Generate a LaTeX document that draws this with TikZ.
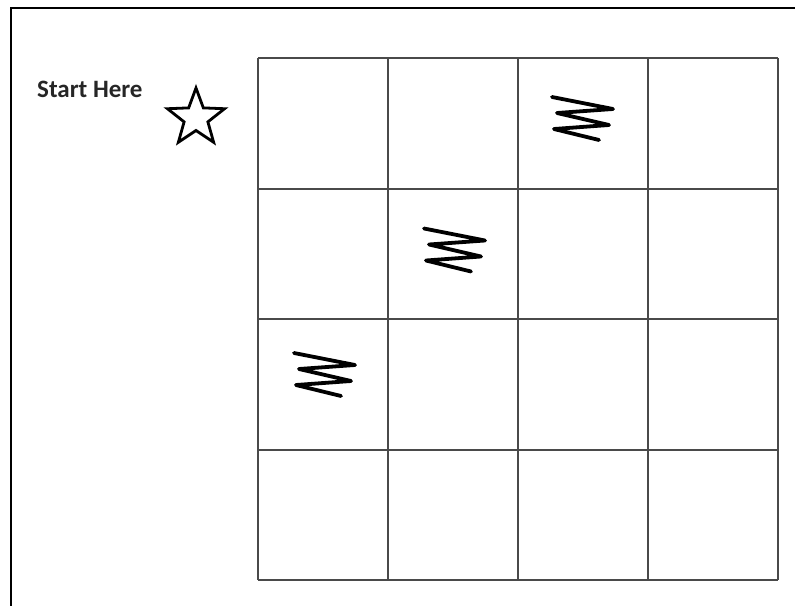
\documentclass[tikz,border=0pt]{standalone}
\usepackage{fontspec}
\newfontfamily\labelfont{Carlito}
\usetikzlibrary{shapes.geometric}
\usepackage{xcolor}
\definecolor{ink}{HTML}{000000}
\definecolor{gridc}{HTML}{4A4A4A}
\definecolor{txt}{HTML}{262626}

\begin{document}
\begin{tikzpicture}[x=1pt,y=-1pt]
  \useasboundingbox (0,0) rectangle (795,605);
  % page frame
  \draw[ink,line width=2.6pt] (796,8) -- (11,8) -- (11,606);
  % board
  \foreach \i in {0,...,4} {
    \draw[gridc,line width=2pt] (258+130*\i,58) -- (258+130*\i,580);
    \draw[gridc,line width=2pt] (258,58+130.5*\i) -- (778,58+130.5*\i);
  }
  % zigzags on the diagonal
  \foreach \c/\r/\dx/\dy in {0/2/0/-6,1/1/0/0,2/0/-2/-1} {
    \pgfmathsetmacro\ox{258+130*\c+\dx}
    \pgfmathsetmacro\oy{58+130.5*\r+\dy}
    \begin{scope}[shift={(\ox,\oy)}]
      \draw[ink,line width=3.8pt,line join=round,line cap=round] (36,40) -- (97,52) -- (41,56)
        -- (93,68) -- (38,72) -- (83,83);
    \end{scope}
  }
  % start marker
  \node[anchor=base west,inner sep=0pt,text=txt,
    font=\labelfont\bfseries\fontsize{25}{29}\selectfont] (start) at (37,97.5) {Start Here};
  \node[star,star points=5,star point ratio=2.4,draw=ink,line width=2.8pt,
    minimum size=60pt,inner sep=0pt] (mark) at (196,118) {};
\end{tikzpicture}
\end{document}
